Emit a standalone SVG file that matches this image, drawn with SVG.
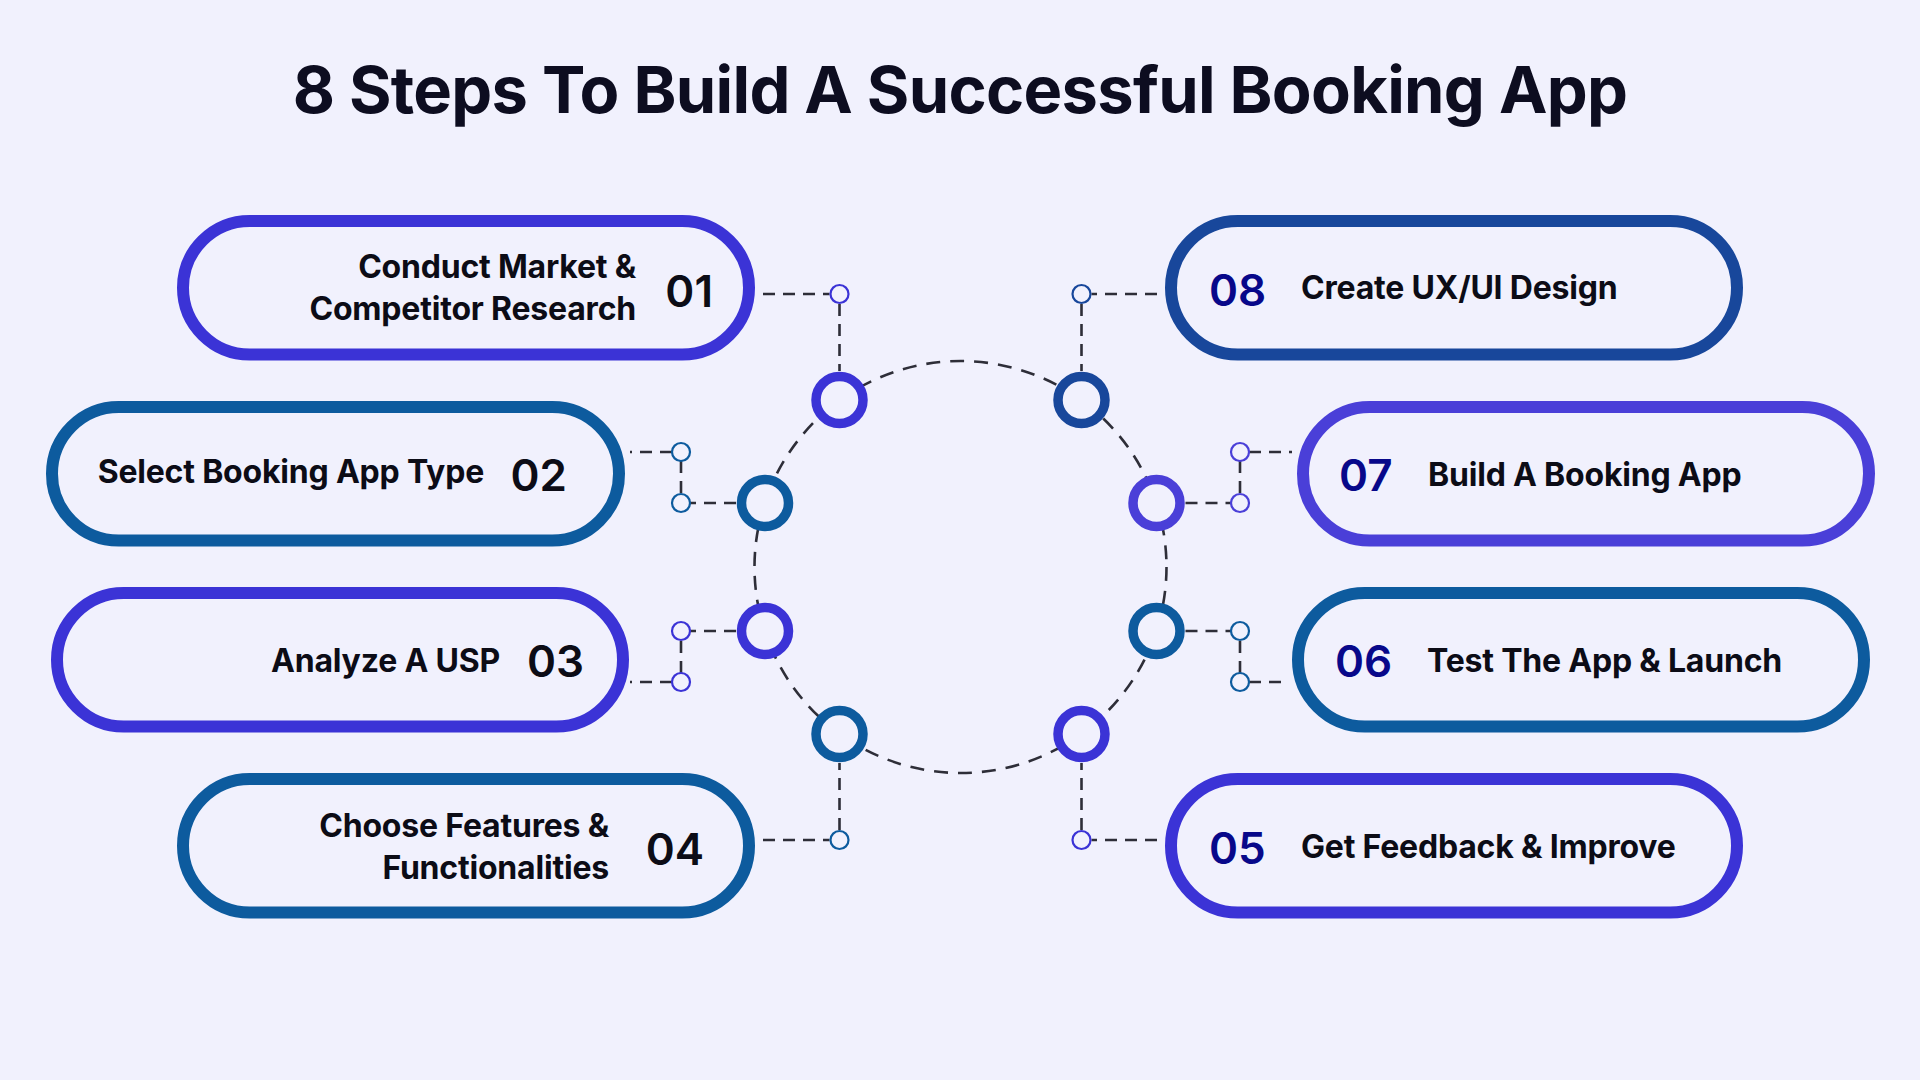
<svg xmlns="http://www.w3.org/2000/svg" width="1920" height="1080" viewBox="0 0 1920 1080">
<style>
.bg{fill:#f1f1fd}
.title{font-family:Inter,"Liberation Sans",sans-serif;font-weight:700;font-size:65px;fill:#0d0d20;letter-spacing:-0.7px}
.pill{fill:#f1f1fd;stroke-width:12}
.lbl{font-family:Inter,"Liberation Sans",sans-serif;font-weight:700;font-size:32px;fill:#0c0c16;letter-spacing:-0.2px}
.numL{font-family:Inter,"Liberation Sans",sans-serif;font-weight:600;font-size:44px;fill:#0c0c16}
.numR{font-family:Inter,"Liberation Sans",sans-serif;font-weight:600;font-size:44px;fill:#08088a}
.node{fill:#f1f1fd;stroke-width:9.5}
.dot{fill:#f1f1fd;stroke-width:2.2}
.dash{fill:none;stroke:#2e2e38;stroke-width:2.6;stroke-dasharray:12 8}
.ring{fill:none;stroke:#2e2e38;stroke-width:2.6;stroke-dasharray:14 10}
.c1{stroke:#3b33d6}
.c2{stroke:#0d5b9e}
.c3{stroke:#18479b}
.c4{stroke:#4a3fd8}
</style>
<rect class="bg" x="0" y="0" width="1920" height="1080"/>
<text class="title" x="960" y="113" text-anchor="middle">8 Steps To Build A Successful Booking App</text>

<g id="connectors">
<circle class="ring" cx="960.5" cy="567" r="206"/>
<path class="dash" d="M763 294H829.5M839.5 304V371"/>
<path class="dash" d="M1157 294H1091.5M1081.5 304V371"/>
<path class="dash" d="M763 840H829.5M839.5 830V763"/>
<path class="dash" d="M1157 840H1091.5M1081.5 830V763"/>
<path class="dash" d="M736 503H690M681 493V461M672 452H630"/>
<path class="dash" d="M736 631H690M681 641V673M672 682H630"/>
<path class="dash" d="M1185.5 503H1231M1240 493V461M1249 452H1292"/>
<path class="dash" d="M1185.5 631H1231M1240 641V673M1249 682H1287"/>
<circle class="dot c1" cx="839.5" cy="294" r="9"/>
<circle class="dot c3" cx="1081.5" cy="294" r="9"/>
<circle class="dot c2" cx="839.5" cy="840" r="9"/>
<circle class="dot c1" cx="1081.5" cy="840" r="9"/>
<circle class="dot c2" cx="681" cy="452" r="9"/>
<circle class="dot c2" cx="681" cy="503" r="9"/>
<circle class="dot c1" cx="681" cy="631" r="9"/>
<circle class="dot c1" cx="681" cy="682" r="9"/>
<circle class="dot c4" cx="1240" cy="452" r="9"/>
<circle class="dot c4" cx="1240" cy="503" r="9"/>
<circle class="dot c2" cx="1240" cy="631" r="9"/>
<circle class="dot c2" cx="1240" cy="682" r="9"/>
</g>

<g id="hub-nodes">
<circle class="node c1" cx="839.5" cy="400" r="23.5"/>
<circle class="node c2" cx="765" cy="503" r="23.5"/>
<circle class="node c1" cx="765" cy="631" r="23.5"/>
<circle class="node c2" cx="839.5" cy="734" r="23.5"/>
<circle class="node c3" cx="1081.5" cy="400" r="23.5"/>
<circle class="node c4" cx="1156.5" cy="503" r="23.5"/>
<circle class="node c2" cx="1156.5" cy="631" r="23.5"/>
<circle class="node c1" cx="1081.5" cy="734" r="23.5"/>
</g>

<g id="step01">
<rect class="pill c1" x="183" y="221" width="566" height="133.5" rx="66.75"/>
<text class="lbl" x="636" y="278" text-anchor="end">Conduct Market &amp;</text>
<text class="lbl" x="636" y="320" text-anchor="end">Competitor Research</text>
<text class="numL" x="713" y="307" text-anchor="end">01</text>
</g>
<g id="step02">
<rect class="pill c2" x="52" y="407" width="567" height="133.5" rx="66.75"/>
<text class="lbl" x="484" y="483" text-anchor="end">Select Booking App Type</text>
<text class="numL" x="567" y="491" text-anchor="end">02</text>
</g>
<g id="step03">
<rect class="pill c1" x="57" y="593" width="566" height="133.5" rx="66.75"/>
<text class="lbl" x="500" y="672" text-anchor="end">Analyze A USP</text>
<text class="numL" x="584" y="677" text-anchor="end">03</text>
</g>
<g id="step04">
<rect class="pill c2" x="183" y="779" width="566" height="133.5" rx="66.75"/>
<text class="lbl" x="609" y="836.5" text-anchor="end">Choose Features &amp;</text>
<text class="lbl" x="609" y="878.5" text-anchor="end">Functionalities</text>
<text class="numL" x="704" y="865" text-anchor="end">04</text>
</g>
<g id="step08">
<rect class="pill c3" x="1171" y="221" width="566" height="133.5" rx="66.75"/>
<text class="numR" x="1209" y="306">08</text>
<text class="lbl" x="1301" y="299">Create UX/UI Design</text>
</g>
<g id="step07">
<rect class="pill c4" x="1303" y="407" width="566" height="133.5" rx="66.75"/>
<text class="numR" x="1339" y="491">07</text>
<text class="lbl" x="1428" y="485.5">Build A Booking App</text>
</g>
<g id="step06">
<rect class="pill c2" x="1298" y="593" width="566" height="133.5" rx="66.75"/>
<text class="numR" x="1335" y="677">06</text>
<text class="lbl" x="1427" y="671.5">Test The App &amp; Launch</text>
</g>
<g id="step05">
<rect class="pill c1" x="1171" y="779" width="566" height="133.5" rx="66.75"/>
<text class="numR" x="1209" y="864">05</text>
<text class="lbl" x="1301" y="857.5">Get Feedback &amp; Improve</text>
</g>
</svg>
